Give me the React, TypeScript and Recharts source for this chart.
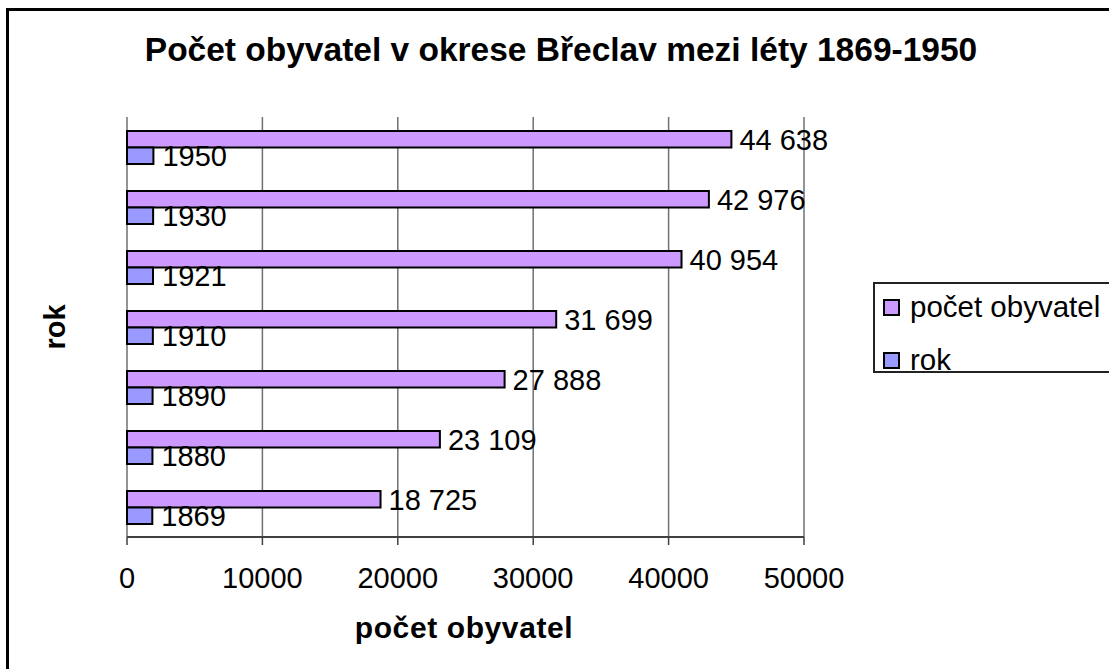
import React from "react"
import { BarChart, Bar, XAxis, YAxis, CartesianGrid, Legend, LabelList } from "recharts"

const years = ["1869", "1880", "1890", "1910", "1921", "1930", "1950"]
const population = [18725, 23109, 27888, 31699, 40954, 42976, 44638]
const rokValues = [1869, 1880, 1890, 1910, 1921, 1930, 1950]
const xTicks = [0, 10000, 20000, 30000, 40000, 50000]

const data = years.map((y, i) => ({ year: y, population: population[i], rok: rokValues[i] }))

const font = '"Liberation Sans", Arial, sans-serif'

// 44638 -> "44 638"
const spaced = (v: any) => String(v).replace(/\B(?=(\d{3})+(?!\d))/g, " ")

function LegendBox({ payload }: any) {
  const items = payload || []
  return (
    <div
      style={{
        position: "relative",
        width: 260,
        height: 87,
        border: "2px solid #222",
        background: "#fff",
        fontFamily: font,
        fontSize: 29.5,
        color: "#000",
      }}
    >
      {items.map((it: any, i: number) => (
        <div
          key={it.value}
          style={{
            position: "absolute",
            left: 8,
            top: i === 0 ? 7 : 60,
            height: 32,
            display: "flex",
            alignItems: "center",
            whiteSpace: "nowrap",
          }}
        >
          <span
            style={{
              display: "inline-block",
              width: 13,
              height: 13,
              border: "2px solid #000",
              background: it.color,
              marginRight: 10,
            }}
          />
          <span>{it.value}</span>
        </div>
      ))}
    </div>
  )
}

export default function App() {
  return (
    <div style={{ position: "fixed", left: 0, top: 0, width: 1109, height: 669, background: "#fff", overflow: "hidden" }}>
      <div
        style={{
          position: "absolute",
          left: 6,
          top: 8,
          width: 1200,
          height: 800,
          borderLeft: "3px solid #000",
          borderTop: "3px solid #000",
        }}
      />
      <div style={{ position: "absolute", left: 0, top: 0 }}>
        <BarChart
          width={1109}
          height={669}
          data={data}
          layout="vertical"
          margin={{ top: 117, right: 305, bottom: 102, left: 127 }}
          barGap={0}
          barSize={16.5}
        >
          <CartesianGrid horizontal={false} stroke="#707070" strokeWidth={1.5} />
          <XAxis
            type="number"
            domain={[0, 50000]}
            ticks={xTicks}
            interval={0}
            height={30}
            tickSize={8}
            tickMargin={22}
            axisLine={{ stroke: "#404040", strokeWidth: 2 }}
            tickLine={{ stroke: "#404040", strokeWidth: 1.5 }}
            tick={{ fill: "#000", fontSize: 29, fontFamily: font }}
          />
          <YAxis
            type="category"
            dataKey="year"
            reversed
            width={0}
            tick={false}
            tickLine={false}
            axisLine={{ stroke: "#808080", strokeWidth: 2 }}
          />
          <Legend
            layout="horizontal"
            verticalAlign="middle"
            align="center"
            content={<LegendBox />}
            wrapperStyle={{ left: 873, top: 282, right: "auto", bottom: "auto", width: 260, height: 89 }}
          />
          <Bar
            dataKey="population"
            name="počet obyvatel"
            fill="#CC99FF"
            stroke="#000"
            strokeWidth={2}
            isAnimationActive={false}
          >
            <LabelList
              dataKey="population"
              position="right"
              offset={8}
              formatter={spaced}
              fill="#000"
              fontSize={29}
              fontFamily={font}
            />
          </Bar>
          <Bar dataKey="rok" name="rok" fill="#9999FF" stroke="#000" strokeWidth={2} isAnimationActive={false}>
            <LabelList dataKey="rok" position="right" offset={9} fill="#000" fontSize={29} fontFamily={font} />
          </Bar>
        </BarChart>
      </div>
      <svg
        width={1109}
        height={669}
        style={{ position: "absolute", left: 0, top: 0, pointerEvents: "none" }}
        fontFamily={font}
        fontWeight="bold"
      >
        <text x={561} y={61} textAnchor="middle" fontSize={33.5}>
          Počet obyvatel v okrese Břeclav mezi léty 1869-1950
        </text>
        <text x={464} y={638} textAnchor="middle" fontSize={30} letterSpacing={0.6}>
          počet obyvatel
        </text>
        <text transform="translate(65,327) rotate(-90)" textAnchor="middle" fontSize={29}>
          rok
        </text>
      </svg>
    </div>
  )
}
